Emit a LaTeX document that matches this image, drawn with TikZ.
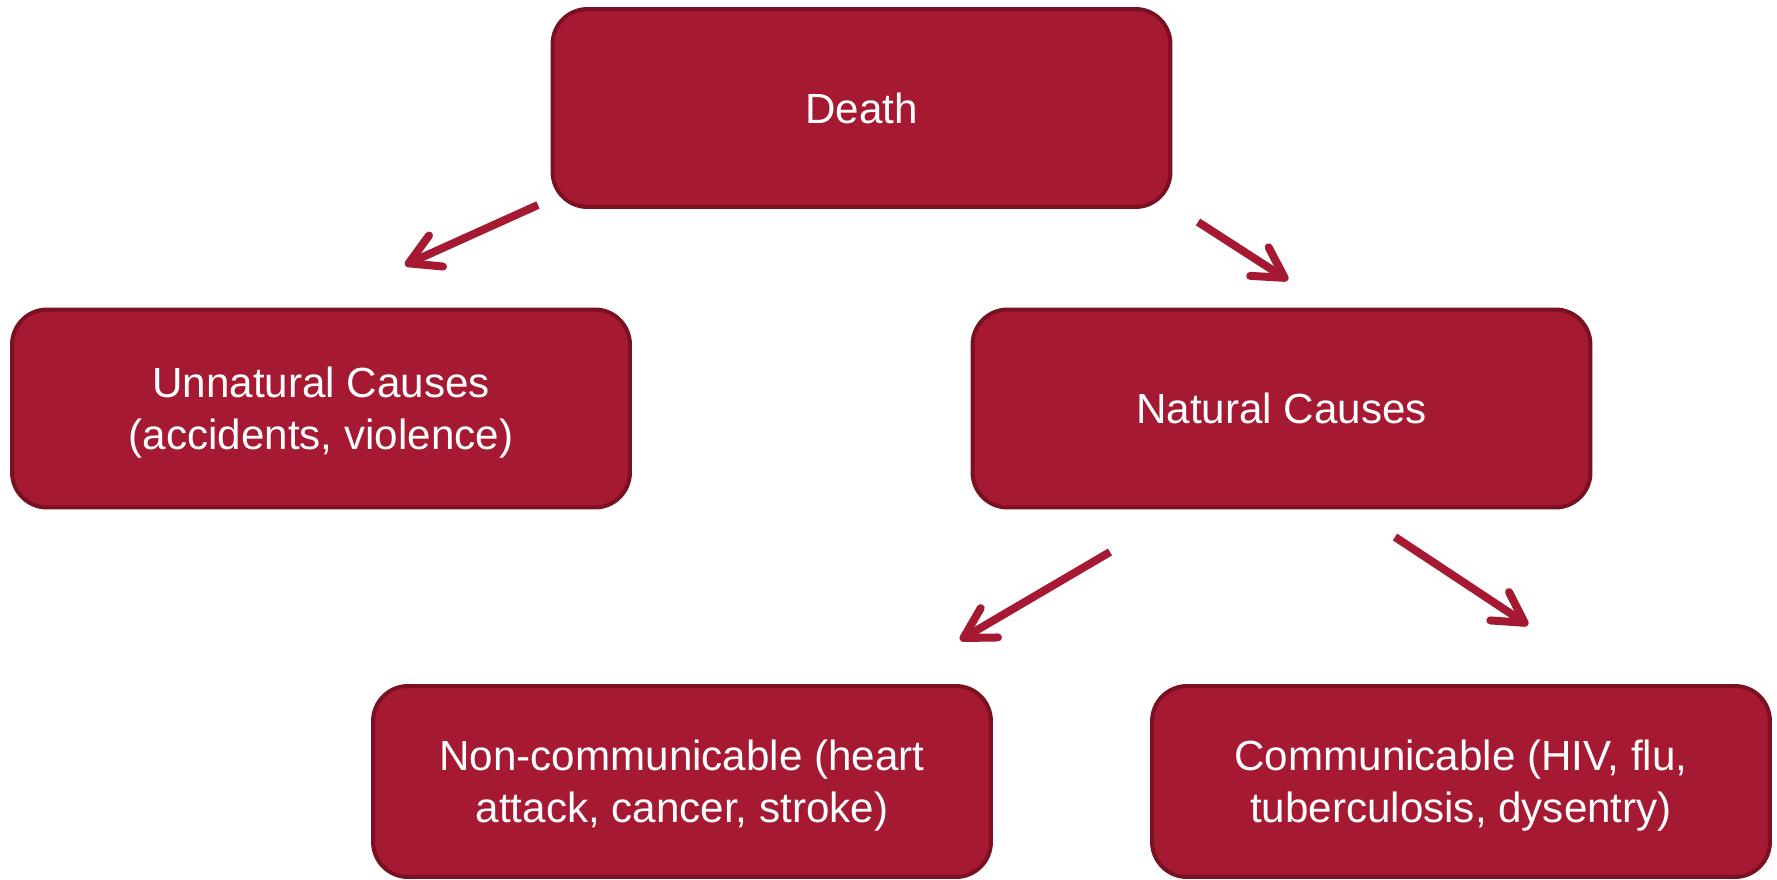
\documentclass[tikz,border=0pt]{standalone}
\usepackage{fontspec}
\setmainfont{Liberation Sans}
\usetikzlibrary{arrows.meta}
\definecolor{boxfill}{HTML}{A51A32}
\definecolor{boxline}{HTML}{7A1020}

\begin{document}
\begin{tikzpicture}[
    x=0.02cm, y=-0.02cm,
    box/.style={draw=boxline, fill=boxfill, line width=0.08cm, rounded corners=0.7cm,
      align=center, minimum width=12.36cm, minimum height=3.96cm, text=white,
      font=\fontsize{24}{29.5}\selectfont, inner sep=0pt, text depth=0pt},
    lowbox/.style={box, minimum height=3.82cm},
    arrow/.style={-{Straight Barb[length=0.6cm,width=0.68cm,round]}, line width=0.16cm, draw=boxfill}
  ]
    \useasboundingbox (0,0) rectangle (1777,879);

    \node[box] (death) at (861.5,108) {Death};
    \node[box] (unnatural) at (321,408.5) {Unnatural Causes\\(accidents, violence)};
    \node[box] (natural) at (1281.5,408.5) {Natural Causes};
    \node[lowbox] (noncomm) at (682,781.5) {Non-communicable (heart\\attack, cancer, stroke)};
    \node[lowbox] (comm) at (1461,781.5) {Communicable (HIV, flu,\\tuberculosis, dysentry)};

    % free-standing arrow ends
    \coordinate (death-l) at (538,205);
    \coordinate (unnatural-top) at (405,265);
    \coordinate (death-r) at (1198,222);
    \coordinate (natural-top) at (1288,280);
    \coordinate (natural-l) at (1110,552);
    \coordinate (noncomm-top) at (960,640);
    \coordinate (natural-r) at (1395,537);
    \coordinate (comm-top) at (1528,625);

    \draw[arrow] (death-l) -- (unnatural-top);
    \draw[arrow] (death-r) -- (natural-top);
    \draw[arrow] (natural-l) -- (noncomm-top);
    \draw[arrow] (natural-r) -- (comm-top);
  \end{tikzpicture}
\end{document}
